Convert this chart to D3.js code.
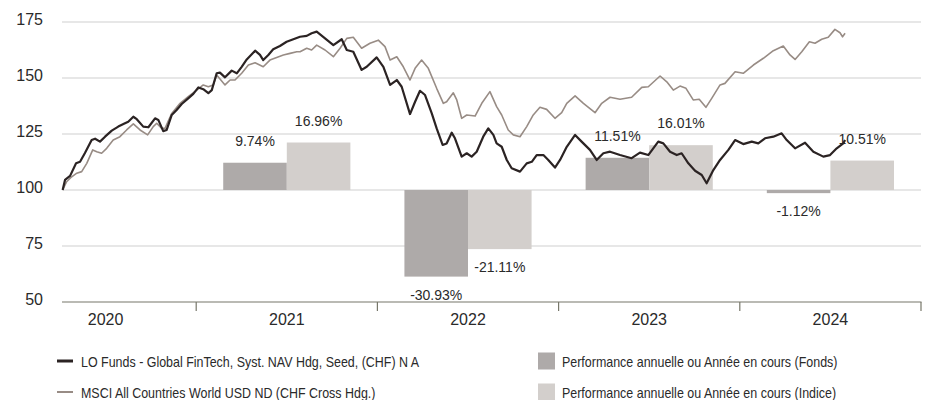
<!DOCTYPE html>
<html>
<head>
<meta charset="utf-8">
<script src="https://cdn.jsdelivr.net/npm/d3@7"></script>
<style>
  body { margin: 0; background: #fff; }
  svg { display: block; }
  .num { font-family: "Liberation Sans", Arial, sans-serif; fill: #2a2a2a; }
  .leg { font-family: "Liberation Sans", Arial, sans-serif; font-size: 15px; fill: #2a2a2a; }
</style>
</head>
<body>
<svg id="chart" width="930" height="400"></svg>
<script>
// categories / ticks
const years = ['2020', '2021', '2022', '2023', '2024'];
const perfYears = ['2021', '2022', '2023', '2024'];
const yTicks = [50, 75, 100, 125, 150, 175];

// annual performance (%)
const fundPerf = [9.74, -30.93, 11.51, -1.12];
const indexPerf = [16.96, -21.11, 16.01, 10.51];

// fund NAV (rebased 100), time in decimal years
const fundT = [2020.263, 2020.276, 2020.304, 2020.337, 2020.359, 2020.386, 2020.423, 2020.442, 2020.469, 2020.497,
  2020.534, 2020.570, 2020.607, 2020.625, 2020.653, 2020.672, 2020.708, 2020.736, 2020.773, 2020.791,
  2020.818, 2020.837, 2020.865, 2020.892, 2020.920, 2020.956, 2020.984, 2021.012, 2021.039, 2021.067,
  2021.086, 2021.113, 2021.131, 2021.159, 2021.196, 2021.224, 2021.251, 2021.279, 2021.325, 2021.352,
  2021.370, 2021.398, 2021.425, 2021.462, 2021.499, 2021.536, 2021.573, 2021.610, 2021.637, 2021.665,
  2021.711, 2021.757, 2021.803, 2021.831, 2021.867, 2021.913, 2021.941, 2021.996, 2022.033, 2022.070,
  2022.107, 2022.134, 2022.180, 2022.208, 2022.235, 2022.263, 2022.300, 2022.327, 2022.360, 2022.382,
  2022.410, 2022.428, 2022.465, 2022.493, 2022.520, 2022.548, 2022.584, 2022.612, 2022.640, 2022.658,
  2022.686, 2022.714, 2022.741, 2022.787, 2022.824, 2022.852, 2022.879, 2022.916, 2022.943, 2022.980,
  2023.008, 2023.045, 2023.091, 2023.127, 2023.173, 2023.210, 2023.247, 2023.284, 2023.339, 2023.403,
  2023.449, 2023.495, 2023.550, 2023.578, 2023.615, 2023.652, 2023.679, 2023.716, 2023.753, 2023.790,
  2023.817, 2023.854, 2023.891, 2023.937, 2023.974, 2024.019, 2024.066, 2024.102, 2024.139, 2024.185,
  2024.231, 2024.259, 2024.305, 2024.360, 2024.406, 2024.461, 2024.498, 2024.535, 2024.571, 2024.581];
const fundV = [100, 104.5, 106.3, 111.9, 112.6, 116.5, 122.3, 122.9, 121.6, 123.8,
  126.5, 128.3, 129.8, 130.5, 132.7, 131.6, 128.3, 128.0, 132.0, 131.3,
  126.3, 126.8, 133.5, 135.7, 138.4, 140.9, 142.9, 145.8, 145.0, 143.2,
  144.6, 152.1, 152.4, 150.3, 153.3, 152.1, 155.0, 158.3, 162.2, 160.3,
  158.0, 160.3, 162.8, 164.3, 166.2, 167.3, 168.4, 168.8, 170.0, 170.7,
  167.7, 164.7, 167.3, 162.5, 161.7, 153.6, 155.0, 159.2, 155.0, 146.9,
  149.1, 146.1, 133.9, 139.4, 144.3, 142.4, 134.2, 127.5, 120.1, 120.8,
  125.6, 123.1, 114.9, 116.4, 114.9, 117.1, 123.8, 127.5, 124.6, 120.8,
  119.3, 113.4, 109.7, 108.2, 111.9, 112.6, 115.6, 115.6, 113.4, 110.0,
  113.4, 119.3, 124.6, 121.6, 117.9, 113.4, 116.4, 117.1, 115.6, 114.2,
  116.7, 115.6, 121.6, 120.8, 117.1, 115.6, 116.4, 111.9, 108.6, 106.7,
  103.0, 108.9, 113.4, 117.9, 122.3, 120.5, 121.6, 120.8, 123.1, 123.8,
  125.3, 122.3, 118.6, 121.1, 117.1, 114.9, 115.6, 118.6, 120.8, 122.3];

// index (rebased 100)
const indexT = [2020.263, 2020.285, 2020.313, 2020.341, 2020.368, 2020.396, 2020.429, 2020.451, 2020.478, 2020.506,
  2020.542, 2020.579, 2020.616, 2020.653, 2020.690, 2020.732, 2020.763, 2020.782, 2020.810, 2020.828,
  2020.865, 2020.911, 2020.956, 2021.003, 2021.039, 2021.067, 2021.094, 2021.113, 2021.159, 2021.187,
  2021.214, 2021.251, 2021.288, 2021.325, 2021.370, 2021.407, 2021.444, 2021.481, 2021.518, 2021.555,
  2021.573, 2021.610, 2021.637, 2021.665, 2021.711, 2021.757, 2021.794, 2021.831, 2021.867, 2021.913,
  2021.959, 2022.005, 2022.042, 2022.070, 2022.107, 2022.143, 2022.180, 2022.208, 2022.244, 2022.281,
  2022.327, 2022.364, 2022.382, 2022.419, 2022.438, 2022.465, 2022.493, 2022.539, 2022.576, 2022.621,
  2022.658, 2022.686, 2022.722, 2022.750, 2022.787, 2022.824, 2022.860, 2022.897, 2022.934, 2022.980,
  2023.017, 2023.045, 2023.091, 2023.137, 2023.201, 2023.238, 2023.284, 2023.339, 2023.403, 2023.459,
  2023.495, 2023.560, 2023.597, 2023.633, 2023.670, 2023.703, 2023.743, 2023.776, 2023.813, 2023.845,
  2023.891, 2023.918, 2023.974, 2024.019, 2024.075, 2024.130, 2024.185, 2024.240, 2024.277, 2024.305,
  2024.342, 2024.384, 2024.415, 2024.452, 2024.488, 2024.525, 2024.553, 2024.567, 2024.581];
const indexV = [100, 103.7, 105.9, 107.5, 108.2, 111.9, 117.9, 117.1, 116.4, 118.6,
  122.3, 123.8, 126.8, 129.5, 126.8, 124.6, 128.3, 129.8, 127.5, 127.5,
  134.2, 138.7, 141.7, 144.6, 146.9, 146.1, 146.9, 151.3, 146.9, 149.1,
  149.1, 152.1, 155.8, 156.8, 155.0, 158.0, 159.2, 160.3, 161.0, 161.7,
  161.7, 163.3, 162.5, 164.7, 162.5, 159.5, 163.3, 167.7, 168.2, 163.3,
  165.5, 166.9, 164.0, 158.0, 159.5, 155.0, 149.1, 154.3, 158.0, 154.3,
  145.4, 138.7, 139.4, 143.4, 140.2, 132.0, 133.5, 133.0, 138.7, 143.9,
  137.2, 133.5, 126.8, 124.6, 123.8, 128.3, 133.5, 136.9, 136.0, 132.0,
  134.5, 138.7, 142.0, 138.7, 134.5, 138.7, 141.4, 140.5, 141.4, 145.8,
  146.1, 150.9, 148.3, 144.6, 146.4, 145.4, 140.2, 140.5, 136.9, 140.9,
  146.9, 147.6, 152.8, 152.1, 155.8, 158.8, 162.2, 164.3, 160.3, 158.3,
  161.7, 166.2, 165.5, 167.3, 168.2, 171.7, 170.2, 168.4, 170.0];

const legendLines = ['LO Funds - Global FinTech, Syst. NAV Hdg, Seed, (CHF) N A', 'MSCI All Countries World USD ND (CHF Cross Hdg.)'];
const legendBars = ['Performance annuelle ou Année en cours (Fonds)', 'Performance annuelle ou Année en cours (Indice)'];

const colFund = '#2b2323', colIndex = '#988c85';
const colFundBar = '#aeaaa9', colIndexBar = '#d3cfcc';

const svg = d3.select('#chart');
const plotL = 62, plotR = 921, plotT = 22, plotB = 302;

const x = d3.scaleLinear().domain([2020, 2025]).range([15, plotR]);
const xBand = d3.scaleBand().domain(years).range([15, plotR]);
const xSub = d3.scaleBand().domain(['fund', 'index']).range([0, xBand.bandwidth()]).paddingOuter(0.425);
const y = d3.scaleLinear().domain([50, 175]).range([plotB, plotT]);
const yPct = d3.scaleLinear().domain([-40, 60]).range([plotB, plotT]);

// grid
svg.append('g').selectAll('line')
  .data(yTicks.filter(d => d > 50))
  .join('line')
  .attr('x1', plotL).attr('x2', plotR)
  .attr('y1', d => y(d)).attr('y2', d => y(d))
  .attr('stroke', '#cfcfcf').attr('stroke-width', 1);

// y labels
svg.append('g').selectAll('text')
  .data(yTicks)
  .join('text')
  .attr('class', 'num')
  .attr('x', 43).attr('y', d => y(d) + 3)
  .attr('text-anchor', 'end')
  .attr('font-size', 16)
  .text(d => d);

// bars
const perf = perfYears.map((yr, i) => ({ yr, fund: fundPerf[i], index: indexPerf[i] }));
const barG = svg.append('g');
perf.forEach(d => {
  [['fund', d.fund, colFundBar], ['index', d.index, colIndexBar]].forEach(([k, v, c]) => {
    const bx = xBand(d.yr) + xSub(k);
    barG.append('rect')
      .attr('x', bx).attr('width', xSub.bandwidth())
      .attr('y', Math.min(yPct(0), yPct(v)))
      .attr('height', Math.abs(yPct(v) - yPct(0)))
      .attr('fill', c);
    barG.append('text')
      .attr('class', 'num')
      .attr('x', bx + xSub.bandwidth() / 2)
      .attr('y', v >= 0 ? yPct(v) - 17 : yPct(v) + 23)
      .attr('text-anchor', 'middle')
      .attr('font-size', 14)
      .text(v.toFixed(2) + '%');
  });
});

// x axis
const axis = svg.append('g').attr('transform', `translate(0,${plotB})`);
axis.append('line').attr('x1', plotL).attr('x2', plotR + 0.5)
  .attr('stroke', '#77776a').attr('stroke-width', 1.2);
axis.selectAll('.tk').data([2021, 2022, 2023, 2024, 2025]).join('line')
  .attr('class', 'tk')
  .attr('x1', d => x(d)).attr('x2', d => x(d))
  .attr('y1', 0).attr('y2', 9)
  .attr('stroke', '#77776a').attr('stroke-width', 1.2);
axis.selectAll('text').data(years).join('text')
  .attr('class', 'num')
  .attr('x', d => xBand(d) + xBand.bandwidth() / 2)
  .attr('y', 23)
  .attr('text-anchor', 'middle')
  .attr('font-size', 16)
  .text(d => d);

// lines
const line = d3.line().x(d => x(d[0])).y(d => y(d[1])).curve(d3.curveLinear);
svg.append('path')
  .datum(indexT.map((t, i) => [t, indexV[i]]))
  .attr('d', line).attr('fill', 'none')
  .attr('stroke', colIndex).attr('stroke-width', 1.6).attr('stroke-linejoin', 'round');
svg.append('path')
  .datum(fundT.map((t, i) => [t, fundV[i]]))
  .attr('d', line).attr('fill', 'none')
  .attr('stroke', colFund).attr('stroke-width', 2.2).attr('stroke-linejoin', 'round');

// legend (condensed look: squeeze glyphs horizontally)
const lg = svg.append('g');
function legText(x0, y0, t) {
  const el = lg.append('text').attr('class', 'leg').attr('x', x0).attr('y', y0).text(t);
  const w = el.node().getComputedTextLength();
  el.attr('textLength', w * 0.83).attr('lengthAdjust', 'spacingAndGlyphs');
}
legendLines.forEach((t, i) => {
  const ly = 361 + i * 31;
  lg.append('line').attr('x1', 57).attr('x2', 73).attr('y1', ly).attr('y2', ly)
    .attr('stroke', i === 0 ? colFund : colIndex).attr('stroke-width', i === 0 ? 3 : 2);
  legText(81, ly + 6, t);
});
legendBars.forEach((t, i) => {
  const ly = 361 + i * 31;
  lg.append('rect').attr('x', 538).attr('y', ly - 8.5).attr('width', 17).attr('height', 17)
    .attr('fill', i === 0 ? colFundBar : colIndexBar);
  legText(562, ly + 6, t);
});
</script>
</body>
</html>
